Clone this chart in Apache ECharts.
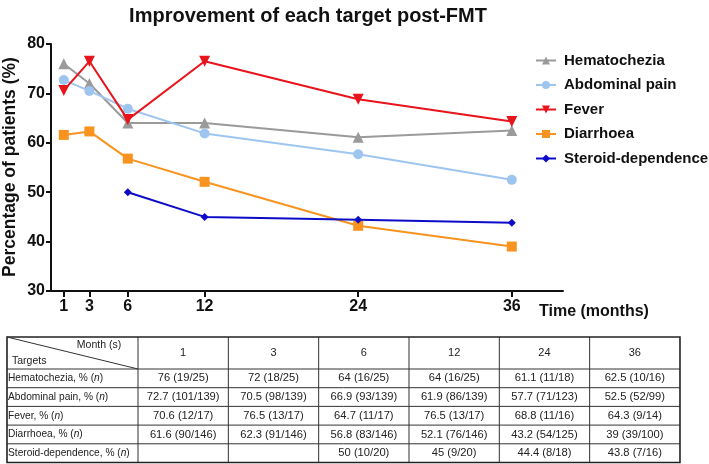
<!DOCTYPE html>
<html>
<head>
<meta charset="utf-8">
<script src="https://cdn.jsdelivr.net/npm/echarts@6/dist/echarts.min.js"></script>
<style>html,body{margin:0;padding:0;background:#fff;}#c{width:709px;height:464px;}</style>
</head>
<body>
<div id="c"></div>
<script>
var months = [1, 3, 6, 12, 24, 36];
var seriesNames = ['Hematochezia', 'Abdominal pain', 'Fever', 'Diarrhoea', 'Steroid-dependence'];
var hematochezia = [76, 72, 64, 64, 61.1, 62.5];
var abdominalPain = [72.7, 70.5, 66.9, 61.9, 57.7, 52.5];
var fever = [70.6, 76.5, 64.7, 76.5, 68.8, 64.3];
var diarrhoea = [61.6, 62.3, 56.8, 52.1, 43.2, 39];
var steroid = [null, null, 50, 45, 44.4, 43.8];
var hematocheziaN = ['19/25', '18/25', '16/25', '16/25', '11/18', '10/16'];
var abdominalPainN = ['101/139', '98/139', '93/139', '86/139', '71/123', '52/99'];
var feverN = ['12/17', '13/17', '11/17', '13/17', '11/16', '9/14'];
var diarrhoeaN = ['90/146', '91/146', '83/146', '76/146', '54/125', '39/100'];
var steroidN = [null, null, '10/20', '9/20', '8/18', '7/16'];
var yTicks = [30, 40, 50, 60, 70, 80];

var FONT = '"Liberation Sans", Arial, sans-serif';
var colors = ['#9a9a9a', '#9ec5f0', '#e8141c', '#f7931e', '#0c0cc8'];
var symbols = ['triangle', 'circle', 'triangle', 'rect', 'diamond'];
var rotates = [0, 0, 180, 0, 0];
var sizes = [11, 10, 11, 10, 8];
var values = [hematochezia, abdominalPain, fever, diarrhoea, steroid];
var counts = [hematocheziaN, abdominalPainN, feverN, diarrhoeaN, steroidN];

function pairs(v) { return months.map(function (m, i) { return [m, v[i]]; }); }

var series = seriesNames.map(function (n, k) {
  return {
    name: n, type: 'line', data: pairs(values[k]),
    symbol: symbols[k], symbolRotate: rotates[k], symbolSize: sizes[k],
    lineStyle: { color: colors[k], width: 2 },
    itemStyle: { color: colors[k] },
    connectNulls: false, z: 2 + k
  };
});

// Table geometry
var tLeft = 7, tTop = 337, firstW = 131, colW = 90.33, headH = 32, rowH = 18.7;
var nCols = months.length;
var tRight = tLeft + firstW + colW * nCols;
var tBottom = tTop + headH + rowH * seriesNames.length;
var g = [];
var lineStyle = { stroke: '#333', lineWidth: 1 };
g.push({ type: 'line', shape: { x1: tLeft, y1: tTop + headH, x2: tRight, y2: tTop + headH }, style: lineStyle });
for (var r = 1; r < seriesNames.length; r++) {
  var yy = tTop + headH + rowH * r;
  g.push({ type: 'line', shape: { x1: tLeft, y1: yy, x2: tRight, y2: yy }, style: lineStyle });
}
for (var c = 0; c < nCols; c++) {
  var xx = tLeft + firstW + colW * c;
  g.push({ type: 'line', shape: { x1: xx, y1: tTop, x2: xx, y2: tBottom }, style: lineStyle });
}
g.push({ type: 'rect', shape: { x: tLeft, y: tTop, width: tRight - tLeft, height: tBottom - tTop }, style: { fill: 'none', stroke: '#222', lineWidth: 1.6 } });
g.push({ type: 'line', shape: { x1: tLeft, y1: tTop, x2: tLeft + firstW, y2: tTop + headH }, style: lineStyle });
g.push({ type: 'text', x: tLeft + 92, y: tTop + 8, style: { text: 'Month (s)', font: '10.5px ' + FONT, fill: '#222', align: 'center', verticalAlign: 'middle' } });
g.push({ type: 'text', x: tLeft + 5, y: tTop + 24, style: { text: 'Targets', font: '10.5px ' + FONT, fill: '#222', align: 'left', verticalAlign: 'middle' } });
months.forEach(function (m, i) {
  g.push({ type: 'text', x: tLeft + firstW + colW * (i + 0.5), y: tTop + headH / 2, style: { text: String(m), font: '11px ' + FONT, fill: '#222', align: 'center', verticalAlign: 'middle' } });
});
seriesNames.forEach(function (n, k) {
  var cy = tTop + headH + rowH * (k + 0.5);
  g.push({ type: 'text', x: tLeft + 1, y: cy, style: { text: n + ', % ({i|n})', font: '10.2px ' + FONT, fill: '#222', align: 'left', verticalAlign: 'middle', rich: { i: { fontStyle: 'italic', fontSize: 10.2, fontFamily: FONT, fill: '#222' } } } });
  months.forEach(function (m, i) {
    if (values[k][i] == null) return;
    g.push({ type: 'text', x: tLeft + firstW + colW * (i + 0.5), y: cy, style: { text: values[k][i] + ' (' + counts[k][i] + ')', font: '11.2px ' + FONT, fill: '#222', align: 'center', verticalAlign: 'middle' } });
  });
});
g.push({ type: 'text', x: 308, y: 16, style: { text: 'Improvement of each target post-FMT', font: 'bold 20px ' + FONT, fill: '#111', align: 'center', verticalAlign: 'middle' } });
g.push({ type: 'text', x: 10, y: 167, rotation: Math.PI / 2, style: { text: 'Percentage of patients (%)', font: 'bold 17.5px ' + FONT, fill: '#111', align: 'center', verticalAlign: 'middle' } });
g.push({ type: 'text', x: 539, y: 312, style: { text: 'Time (months)', font: 'bold 16px ' + FONT, fill: '#111', align: 'left', verticalAlign: 'middle' } });

var chart = echarts.init(document.getElementById('c'), null, { renderer: 'canvas' });
chart.setOption({
  animation: false,
  backgroundColor: '#fff',
  grid: { left: 51, right: 146, top: 44, bottom: 173, containLabel: false },
  legend: {
    orient: 'vertical', left: 530, top: 48, itemWidth: 20, itemHeight: 10, itemGap: 9.5,
    data: seriesNames,
    textStyle: { fontFamily: FONT, fontWeight: 'bold', fontSize: 15, color: '#111', padding: [0, 0, 0, 3] }
  },
  xAxis: {
    type: 'value', min: 0, max: 40,
    axisLine: { lineStyle: { color: '#111', width: 2 } },
    splitLine: { show: false },
    axisTick: { show: true, length: 6, lineStyle: { color: '#111', width: 2 }, customValues: months },
    axisLabel: { customValues: months, fontFamily: FONT, fontWeight: 'bold', fontSize: 16, color: '#111', margin: 8 }
  },
  yAxis: {
    type: 'value', min: 30, max: 80, interval: 10,
    axisLine: { show: true, lineStyle: { color: '#111', width: 2 } },
    splitLine: { show: false },
    axisTick: { show: true, length: 5, lineStyle: { color: '#111', width: 2 } },
    axisLabel: { fontFamily: FONT, fontWeight: 'bold', fontSize: 16, color: '#111', margin: 6 }
  },
  series: series,
  graphic: g
});
</script>
</body>
</html>
